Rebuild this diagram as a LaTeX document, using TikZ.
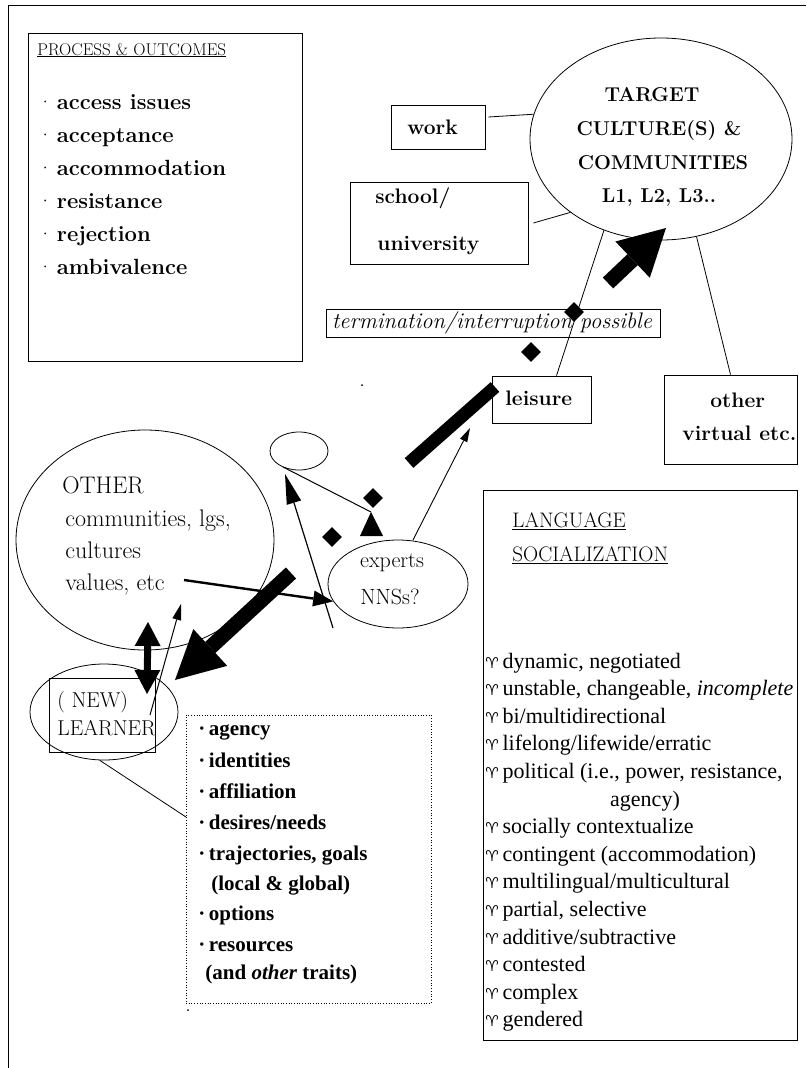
\documentclass[tikz,border=0pt]{standalone}
\usepackage{fontspec}
\newfontfamily\timesfont{Liberation Serif}
\newfontfamily\symfont{DejaVu Sans}
\usetikzlibrary{shapes.geometric,calc}
\newcommand{\fatarrow}[5]{%
  \draw[line width=#3] (#1) -- ($(#2)!#4!(#1)$);
  \fill (#2) -- ($($(#2)!#4!(#1)$)!#5!90:(#2)$) -- ($($(#2)!#4!(#1)$)!#5!-90:(#2)$) -- cycle;}
\newcommand{\ari}{{\symfont\fontsize{15}{15}\selectfont ♈}\,}
\newcommand{\heavier}{\addfontfeature{FakeBold=0.3}}
\begin{document}
\begin{tikzpicture}[x=1pt,y=-1pt,line width=0.8pt,
  rbox/.style={draw,rectangle,inner sep=0},
  ell/.style={draw,ellipse,inner sep=0},
  tl/.style={anchor=west,inner sep=0,text height=14pt,text depth=4pt},
  tc/.style={anchor=center,inner sep=0,text height=14pt,text depth=4pt},
  pal/.style={font=\fontsize{22}{26}\selectfont\heavier},
  palb/.style={font=\fontsize{21}{25}\selectfont\bfseries},
  poitem/.style={font=\fontsize{22}{26}\selectfont\bfseries},
  tgt/.style={font=\fontsize{20}{24}\selectfont\bfseries},
  oth/.style={font=\fontsize{24}{28}\selectfont\heavier},
  tms/.style={font=\timesfont\fontsize{22}{26}\selectfont},
  tmsb/.style={font=\timesfont\fontsize{21}{25}\selectfont\bfseries},
  dia/.style={diamond,fill,inner sep=0,minimum width=20pt,minimum height=20pt}]
\useasboundingbox (0,0) rectangle (806,1068);
\fill[white] (0,0) rectangle (806,1068);
% frame
\draw (8,1068) -- (8,5) -- (806,5);
% process & outcomes
\node[rbox,minimum width=274pt,minimum height=328pt] (po) at (165,197) {};
\node[tl,font=\fontsize{17}{20}\selectfont\heavier] (poh) at (37,50) {\underline{PROCESS \& OUTCOMES}};
\node[tl,poitem] (po1) at (37,104) {{\mdseries·}\,access issues};
\node[tl,poitem] (po2) at (37,137) {{\mdseries·}\,acceptance};
\node[tl,poitem] (po3) at (37,170) {{\mdseries·}\,accommodation};
\node[tl,poitem] (po4) at (37,203) {{\mdseries·}\,resistance};
\node[tl,poitem] (po5) at (37,236) {{\mdseries·}\,rejection};
\node[tl,poitem] (po6) at (37,269) {{\mdseries·}\,ambivalence};
% target ellipse
\node[ell,minimum width=262pt,minimum height=202pt] (target) at (661,139) {};
\node[tc,tgt] (tg1) at (652,96) {TARGET};
\node[tc,tgt] (tg2) at (659,130) {CULTURE(S) \&};
\node[tc,tgt] (tg3) at (663,164) {COMMUNITIES};
\node[tc,tgt] (tg4) at (659,197) {L1, L2, L3..};
% work / school
\node[rbox,minimum width=94pt,minimum height=44pt] (work) at (438,127) {};
\node[tl,palb] (workt) at (407,129) {work};
\node[rbox,minimum width=178pt,minimum height=82pt] (school) at (439,223) {};
\node[tl,palb] (sch1) at (375,198) {school/};
\node[tl,palb] (sch2) at (377,245) {university};
\draw ([xshift=3pt,yshift=10pt]work.east) -- (target.169);
\draw ([xshift=5pt]school.east) -- (target.219);
% termination
\node[rbox,minimum width=334pt,minimum height=28pt] (term) at (493,323) {};
\node[tc,font=\fontsize{22.5}{26}\selectfont\itshape\heavier] (termt) at (492,323) {termination/interruption possible};
% leisure
\node[rbox,minimum width=99pt,minimum height=47pt] (leisure) at (541.5,399.5) {};
\node[tl,palb] (leist) at (505,400) {leisure};
\draw ([xshift=15pt]leisure.north) -- (target.238);
% other virtual
\node[rbox,minimum width=133pt,minimum height=89pt] (other) at (730.5,419.5) {};
\node[tl,palb] (oth1) at (710,402) {other};
\node[tl,palb] (oth2) at (682,435) {virtual etc.};
\draw (other.north) -- (target.290.6);
% diamonds
\node[dia] (d1) at (574,312) {};
\node[dia] (d2) at (531,352) {};
\node[dia] (d3) at (373,498) {};
\node[dia] (d4) at (332,537) {};
% thick bar and arrow to target
\coordinate (bar1) at (409,463);
\coordinate (bar2) at (495,387);
\draw[line width=13pt] (bar1) -- (bar2);
\coordinate (ta1) at (608,283);
\coordinate (ta2) at (666,228);
\fatarrow{ta1}{ta2}{15pt}{46pt}{25pt}
% language socialization
\node[rbox,minimum width=314pt,minimum height=550pt] (ls) at (640,765) {};
\node[tl,font=\fontsize{21}{25}\selectfont\heavier] (lsh1) at (512,522) {\underline{LANGUAGE}};
\node[tl,font=\fontsize{21}{25}\selectfont\heavier] (lsh2) at (512,556) {\underline{SOCIALIZATION}};
\node[tl,tms] (ls1) at (485,663) {\ari dynamic, negotiated};
\node[tl,tms] (ls2) at (485,690.6) {\ari unstable, changeable, \textit{incomplete}};
\node[tl,tms] (ls3) at (485,718.2) {\ari bi/multidirectional};
\node[tl,tms] (ls4) at (485,745.8) {\ari lifelong/lifewide/erratic};
\node[tl,tms] (ls5) at (485,773.4) {\ari political (i.e., power, resistance,};
\node[tc,tms] (ls5b) at (645,801) {agency)};
\node[tl,tms] (ls6) at (485,828.6) {\ari socially contextualize};
\node[tl,tms] (ls7) at (485,856.2) {\ari contingent (accommodation)};
\node[tl,tms] (ls8) at (485,883.8) {\ari multilingual/multicultural};
\node[tl,tms] (ls9) at (485,911.4) {\ari partial, selective};
\node[tl,tms] (ls10) at (485,939) {\ari additive/subtractive};
\node[tl,tms] (ls11) at (485,966.6) {\ari contested};
\node[tl,tms] (ls12) at (485,994.2) {\ari complex};
\node[tl,tms] (ls13) at (485,1021.8) {\ari gendered};
% other ellipse
\node[ell,minimum width=258pt,minimum height=220pt] (othe) at (145,540) {};
\node[tl,oth] (ot1) at (62,488) {OTHER};
\node[tl,oth] (ot2) at (65,521) {communities, lgs,};
\node[tl,oth] (ot3) at (65,553) {cultures};
\node[tl,oth] (ot4) at (65,585) {values, etc};
% experts ellipse
\node[ell,minimum width=140pt,minimum height=88pt] (exp) at (398,584) {};
\node[tc,pal] (ex1) at (392,562) {experts};
\node[tc,pal] (ex2) at (390,599) {NNSs?};
% small ellipse
\node[ell,minimum width=58pt,minimum height=38pt] (small) at (299,451) {};
% learner
\node[ell,minimum width=148pt,minimum height=96pt] (learner) at (104,712) {};
\node[rbox,minimum width=106pt,minimum height=74pt] (lrect) at (102,715) {};
\node[tl,font=\fontsize{21.5}{25}\selectfont\heavier] (le1) at (57,702) {( NEW)};
\node[tl,font=\fontsize{21.5}{25}\selectfont\heavier] (le2) at (57,730) {LEARNER};
% dotted box
\node[rbox,dotted,line width=0.7pt,minimum width=245pt,minimum height=288pt] (dbox) at (308.5,859) {};
\node[tl,tmsb] (db1) at (198,730) {·\,agency};
\node[tl,tmsb] (db2) at (198,762) {·\,identities};
\node[tl,tmsb] (db3) at (198,793) {·\,affiliation};
\node[tl,tmsb] (db4) at (198,824) {·\,desires/needs};
\node[tl,tmsb] (db5) at (198,855) {·\,trajectories, goals};
\node[tl,tmsb] (db5b) at (211,885) {(local \& global)};
\node[tl,tmsb] (db6) at (198,915) {·\,options};
\node[tl,tmsb] (db7) at (198,946) {·\,resources};
\node[tl,tmsb] (db7b) at (205,974) {(and \textit{other} traits)};
\coordinate (dbj) at (186,817);
\draw (learner.265) -- (dbj);
% arrows in the middle
\coordinate (va1) at (184,580);
\fatarrow{va1}{exp.195}{2.4pt}{20pt}{8pt}
\coordinate (la1) at (291,573);
\coordinate (la2) at (175,680);
\fatarrow{la1}{la2}{15pt}{48pt}{25pt}
\coordinate (da1) at (148,622);
\coordinate (da2) at (147,694);
\draw[line width=7pt] ($(da1)!24pt!(da2)$) -- ($(da2)!24pt!(da1)$);
\fill (da1) -- ($($(da1)!24pt!(da2)$)!13pt!90:(da1)$) -- ($($(da1)!24pt!(da2)$)!13pt!-90:(da1)$) -- cycle;
\fill (da2) -- ($($(da2)!24pt!(da1)$)!13pt!90:(da2)$) -- ($($(da2)!24pt!(da1)$)!13pt!-90:(da2)$) -- cycle;
\coordinate (ua1) at (150,715);
\coordinate (ua2) at (181,604);
\fatarrow{ua1}{ua2}{1pt}{16pt}{4.5pt}
\coordinate (tall1) at (333,628);
\coordinate (tall2) at (285,474);
\fatarrow{tall1}{tall2}{1.2pt}{30pt}{7.5pt}
\coordinate (se1) at (283,467);
\coordinate (se2) at (371,512);
\draw[line width=1pt] (se1) -- (se2);
\fill (se2) -- (360,536) -- (383,536) -- cycle;
\coordinate (el1) at (413,540);
\coordinate (el2) at (470,428);
\fatarrow{el1}{el2}{0.9pt}{14pt}{4pt}
% specks
\fill (362,385) circle (1pt);
\fill (188,1010) circle (1pt);
\end{tikzpicture}
\end{document}
